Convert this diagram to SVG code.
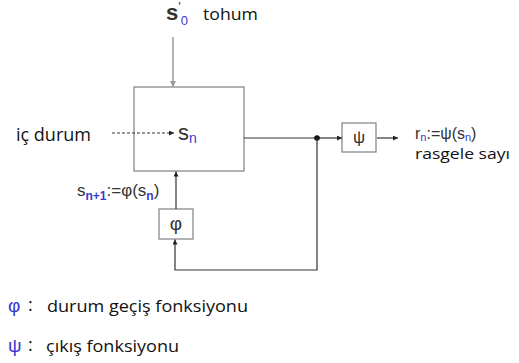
<svg xmlns="http://www.w3.org/2000/svg" width="519" height="363" viewBox="0 0 519 363">
<style>
.box{fill:#fff;stroke:#808080;stroke-width:1.2}
.ln{fill:none;stroke:#333;stroke-width:1.2}
.lbl{font-family:"Open Sans","Liberation Sans",sans-serif;fill:#111}
.f{font-family:"Liberation Sans",Arial,sans-serif;fill:#333}
.b{fill:#3a3ad0}
</style>
<defs>
<marker id="ah" viewBox="0 0 6 6" refX="6" refY="3" markerWidth="5" markerHeight="5" markerUnits="userSpaceOnUse" orient="auto">
<path d="M0,0 L6,3 L0,6 z" fill="#222"/>
</marker>
<marker id="ahg" viewBox="0 0 6 6" refX="6" refY="3" markerWidth="6" markerHeight="6" markerUnits="userSpaceOnUse" orient="auto">
<path d="M0,0 L6,3 L0,6 z" fill="#999"/>
</marker>
</defs>

<g id="state">
<rect x="134" y="87" width="110" height="84" class="box"/>
<text x="178" y="140" class="f" font-size="22" fill="#222">s<tspan class="b" font-size="14" dy="3">n</tspan></text>
</g>

<g id="seed">
<text x="166" y="20" class="f" font-size="22" font-weight="bold" fill="#444">s<tspan font-size="13" font-weight="normal" dy="-9">'</tspan><tspan class="b" font-size="13" font-weight="normal" dy="14" fill="#2d6db8">0</tspan></text>
<text x="203" y="20" class="lbl" font-size="17" textLength="55" lengthAdjust="spacingAndGlyphs">tohum</text>
</g>

<g id="icdurum">
<text x="16" y="141" class="lbl" font-size="18" textLength="75" lengthAdjust="spacingAndGlyphs">iç durum</text>
</g>

<g id="psi">
<rect x="342" y="123" width="34" height="29" class="box"/>
<text x="359" y="143" class="f" font-size="17" text-anchor="middle" fill="#5a3a2a">ψ</text>
</g>

<g id="output">
<text x="415" y="139" class="f" font-size="16" fill="#333">r<tspan class="b" font-size="11" dy="2">n</tspan><tspan dy="-2">:=ψ(s</tspan><tspan class="b" font-size="11" dy="2">n</tspan><tspan dy="-2">)</tspan></text>
<text x="415" y="159" class="lbl" font-size="15" textLength="95" lengthAdjust="spacingAndGlyphs">rasgele sayı</text>
</g>

<g id="phi">
<rect x="159" y="209" width="34" height="30" class="box"/>
<text x="176" y="230" class="f" font-size="19" text-anchor="middle" fill="#333">φ</text>
<text x="77" y="196" class="f" font-size="17" fill="#333">s<tspan class="b" font-size="12" font-weight="bold" dy="4">n+1</tspan><tspan dy="-4">:=φ(s</tspan><tspan class="b" font-size="12" font-weight="bold" dy="4">n</tspan><tspan dy="-4">)</tspan></text>
</g>

<g id="legend">
<text x="8" y="312" class="f b" font-size="19">φ</text>
<text x="28" y="311" class="lbl" font-size="18">:</text>
<text x="47" y="312" class="lbl" font-size="17" textLength="201" lengthAdjust="spacingAndGlyphs">durum geçiş fonksiyonu</text>
<text x="8" y="352" class="f b" font-size="19">ψ</text>
<text x="28" y="351" class="lbl" font-size="18">:</text>
<text x="46" y="352" class="lbl" font-size="17" textLength="133" lengthAdjust="spacingAndGlyphs">çıkış fonksiyonu</text>
</g>

<g id="connectors">
<line x1="173" y1="37" x2="173" y2="87" stroke="#a0a0a0" stroke-width="1.6" marker-end="url(#ahg)"/>
<line x1="112" y1="133" x2="174" y2="133" class="ln" stroke-dasharray="3,2" marker-end="url(#ah)"/>
<line x1="244" y1="138" x2="317" y2="138" class="ln"/>
<line x1="317" y1="138" x2="342" y2="138" class="ln" marker-end="url(#ah)"/>
<circle cx="317" cy="138" r="2.8" fill="#111"/>
<line x1="377" y1="138" x2="398" y2="138" class="ln" stroke-width="1.8" marker-end="url(#ah)"/>
<polyline points="317,138 317,270 175,270 175,239.5" class="ln" marker-end="url(#ah)"/>
<line x1="176" y1="209" x2="176" y2="171.5" class="ln" marker-end="url(#ah)"/>
</g>
</svg>
